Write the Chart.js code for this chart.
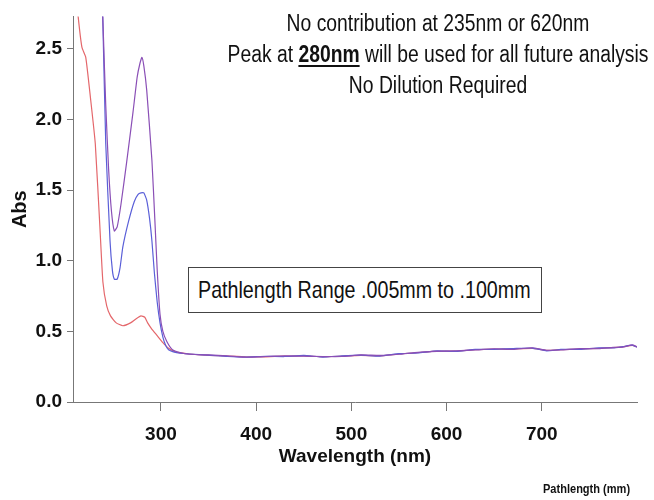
<!DOCTYPE html>
<html>
<head>
<meta charset="utf-8">
<script src="https://cdn.jsdelivr.net/npm/chart.js@4.4.1/dist/chart.umd.min.js"></script>
<style>
    body { margin: 0; background: #fff; }
    #wrap { position: relative; width: 654px; height: 500px; font-family: "Liberation Sans", Arial, sans-serif; color: #111; overflow: hidden; }
    #notes { position: absolute; left: 138px; top: 8px; width: 600px; text-align: center; white-space: nowrap; font-size: 23px; line-height: 31px; transform: scaleX(0.84); transform-origin: 300px 0; }
    #notes u { font-weight: bold; text-decoration-thickness: 2px; text-underline-offset: 3px; }
    #rangeBox { position: absolute; left: 188px; top: 267px; width: 352px; height: 44px; border: 1px solid #444; background: #fff; }
    #rangeBox span { position: absolute; left: 9px; top: 0; white-space: nowrap; font-size: 24px; line-height: 44px; transform: scaleX(0.82); transform-origin: left center; }
    #legendTitle { position: absolute; left: 543px; top: 482px; font-size: 12px; font-weight: bold; transform: scaleX(0.92); transform-origin: left center; }
</style>
</head>
<body>
<div id="wrap">
    <canvas id="myChart" width="654" height="500"></canvas>
    <div id="notes">No contribution at 235nm or 620nm<br>Peak at <u>280nm</u> will be used for all future analysis<br>No Dilution Required</div>
    <div id="rangeBox"><span>Pathlength Range .005mm to .100mm</span></div>
    <div id="legendTitle">Pathlength (mm)</div>
</div>
<script>
// wavelength (nm) and absorbance
const tailWl = [330, 350, 370, 390, 410, 430, 450, 470, 490, 510, 530, 550, 570, 590, 610, 630, 650, 670, 690, 705, 720, 740, 760, 775, 785, 795, 800];

const redWl = [211, 213, 217, 221, 226, 231, 236, 239, 243, 247, 253, 260, 268, 274, 279, 283, 286, 290, 296, 302, 308, 315];
const redAbs = [2.9, 2.73, 2.51, 2.44, 2.15, 1.83, 1.22, 0.85, 0.68, 0.61, 0.56, 0.54, 0.56, 0.59, 0.61, 0.60, 0.56, 0.52, 0.47, 0.42, 0.38, 0.355];
const redTail = [0.34, 0.33, 0.325, 0.32, 0.32, 0.325, 0.327, 0.32, 0.325, 0.33, 0.327, 0.34, 0.35, 0.36, 0.36, 0.37, 0.375, 0.375, 0.38, 0.365, 0.37, 0.375, 0.38, 0.385, 0.39, 0.40, 0.39];

const blueWl = [238, 239, 242, 246.5, 249, 251, 254, 257, 260, 266, 272, 276, 279, 282, 285, 288, 290.5, 293, 296, 299, 302, 305, 308, 313, 320];
const blueAbs = [2.9, 2.68, 1.83, 1.14, 0.93, 0.87, 0.87, 0.95, 1.1, 1.28, 1.42, 1.47, 1.48, 1.48, 1.43, 1.3, 1.14, 0.92, 0.71, 0.56, 0.46, 0.40, 0.37, 0.355, 0.345];
const blueTail = [0.34, 0.332, 0.322, 0.318, 0.323, 0.322, 0.33, 0.318, 0.327, 0.332, 0.325, 0.342, 0.348, 0.362, 0.358, 0.372, 0.373, 0.378, 0.382, 0.362, 0.372, 0.373, 0.383, 0.383, 0.392, 0.402, 0.388];

const purpleWl = [238, 239.5, 242, 245, 248, 251, 254, 258, 264, 270.6, 275, 278, 280, 282, 285, 290.5, 293.5, 296, 299, 302, 306, 312, 320];
const purpleAbs = [2.9, 2.6, 2.1, 1.65, 1.35, 1.21, 1.24, 1.4, 1.7, 2.05, 2.30, 2.40, 2.44, 2.38, 2.21, 1.71, 1.30, 0.94, 0.62, 0.50, 0.43, 0.37, 0.35];
const purpleTail = [0.338, 0.333, 0.327, 0.317, 0.322, 0.327, 0.325, 0.322, 0.322, 0.333, 0.33, 0.338, 0.352, 0.358, 0.362, 0.368, 0.377, 0.372, 0.384, 0.366, 0.368, 0.378, 0.378, 0.387, 0.388, 0.404, 0.392];

const xTickValues = [300, 400, 500, 600, 700];
const yTickValues = [0, 0.5, 1.0, 1.5, 2.0, 2.5];

const fontFamily = '"Liberation Sans", Arial, sans-serif';

function toPoints(wl, abs) {
    return wl.map((w, i) => ({ x: w, y: abs[i] }));
}

function makeSeries(label, wl, abs, tail, color) {
    return {
        label: label,
        data: toPoints(wl.concat(tailWl), abs.concat(tail)),
        borderColor: color,
        borderWidth: 1.2,
        pointRadius: 0,
        fill: false,
        tension: 0.15
    };
}

document.addEventListener('DOMContentLoaded', function() {
    const ctx = document.getElementById('myChart').getContext('2d');
    new Chart(ctx, {
        type: 'line',
        data: {
            datasets: [
                makeSeries('0.100', purpleWl, purpleAbs, purpleTail, '#8a4fb6'),
                makeSeries('0.050', blueWl, blueAbs, blueTail, '#5a5fd8'),
                makeSeries('0.005', redWl, redAbs, redTail, '#e4676b')
            ]
        },
        options: {
            responsive: false,
            animation: false,
            layout: { padding: { top: 0, right: 17, left: 0, bottom: 0 } },
            plugins: { legend: { display: false }, tooltip: { enabled: false } },
            scales: {
                x: {
                    type: 'linear',
                    min: 207.6,
                    max: 800,
                    afterBuildTicks: scale => { scale.ticks = xTickValues.map(v => ({ value: v })); },
                    afterFit: scale => { scale.height = 98; },
                    grid: { drawOnChartArea: false, tickLength: 9, color: '#777' },
                    border: { color: '#777' },
                    ticks: { color: '#111', padding: 12, font: { family: fontFamily, size: 19, weight: 'bold' } },
                    title: {
                        display: true,
                        text: 'Wavelength (nm)',
                        color: '#111',
                        padding: { top: 0, bottom: 32 },
                        font: { family: fontFamily, size: 19, weight: 'bold' }
                    }
                },
                y: {
                    min: 0,
                    max: 2.73,
                    afterBuildTicks: scale => { scale.ticks = yTickValues.map(v => ({ value: v })); },
                    afterFit: scale => { scale.width = 73; },
                    grid: { drawOnChartArea: false, tickLength: 6, color: '#777' },
                    border: { color: '#777' },
                    ticks: {
                        color: '#111',
                        padding: 5,
                        font: { family: fontFamily, size: 19, weight: 'bold' },
                        callback: v => v.toFixed(1)
                    },
                    title: {
                        display: true,
                        text: 'Abs',
                        color: '#111',
                        padding: { top: 8, bottom: 0 },
                        font: { family: fontFamily, size: 20, weight: 'bold' }
                    }
                }
            }
        }
    });
});
</script>
</body>
</html>
